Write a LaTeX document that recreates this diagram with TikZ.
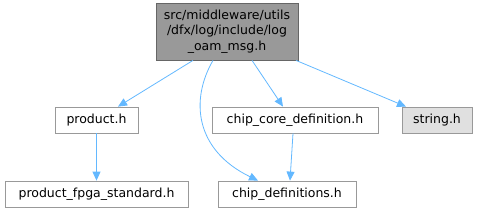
\documentclass[tikz,border=0pt]{standalone}
\usepackage{fontspec}
\setmainfont{DejaVu Sans}
\usetikzlibrary{arrows.meta}
\definecolor{edgec}{HTML}{63B8FF}
\definecolor{boxc}{HTML}{999999}
\tikzset{
  box/.style={draw=boxc, fill=white, line width=0.8pt, inner sep=0pt, font=\fontsize{12.5}{15.5}\selectfont},
  edge/.style={draw=edgec, line width=0.8pt, -{Triangle[length=9pt,width=8pt]}},
}
\begin{document}
\begin{tikzpicture}[x=1pt,y=-1pt]
\useasboundingbox (0,0) rectangle (479,212);
\node[box, draw=black!60, fill=boxc, minimum width=142pt, minimum height=57pt, align=center] (top) at (227,31.5)
  {src/middleware/utils\\/dfx/log/include/log\\\_oam\_msg.h};
\node[box, minimum width=83pt, minimum height=26pt] (prod) at (96.5,120) {product.h};
\node[box, minimum width=183pt, minimum height=26pt] (fpga) at (96.5,194) {product\_fpga\_standard.h};
\node[box, minimum width=166pt, minimum height=26pt] (core) at (295,120) {chip\_core\_definition.h};
\node[box, fill=black!12, minimum width=70pt, minimum height=26pt] (str) at (437,120) {string.h};
\node[box, minimum width=138pt, minimum height=26pt] (defs) at (287,194) {chip\_definitions.h};
\draw[edge] (top.south -| 193,0) -- (prod.north -| 118,0);
\draw[edge] (top.south -| 252,0) -- (core.north -| 283,0);
\draw[edge] (top.south -| 296,0) -- (str.north -| 406,0);
\draw[edge] (prod) -- (fpga);
\draw[edge] (core.south -| 293,0) -- (defs.north -| 290,0);
\draw[edge] (top.south -| 213,0) .. controls (190,100) and (195,150) .. (defs.north -| 258,0);
\end{tikzpicture}
\end{document}
